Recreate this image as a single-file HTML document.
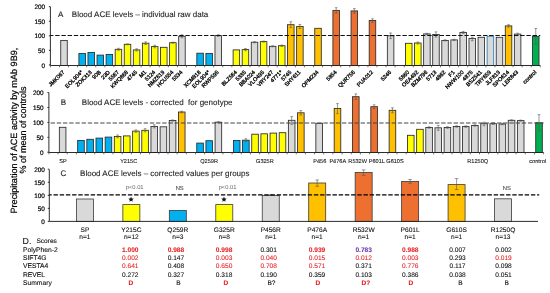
<!DOCTYPE html><html><head><meta charset="utf-8"><style>html,body{margin:0;padding:0;background:#fff;}svg{display:block;will-change:transform}</style></head><body>
<svg width="550" height="293" viewBox="0 0 550 293" font-family="Liberation Sans, sans-serif" text-rendering="geometricPrecision">
<rect width="550" height="293" fill="#fff"/>
<rect x="60.74" y="40.40" width="6.53" height="25.10" fill="#d9d9d9" stroke="#2a2a2a" stroke-width="0.85"/>
<rect x="78.89" y="53.40" width="6.53" height="12.10" fill="#00b0f0" stroke="#2a2a2a" stroke-width="0.85"/>
<rect x="87.96" y="52.40" width="6.53" height="13.10" fill="#00b0f0" stroke="#2a2a2a" stroke-width="0.85"/>
<rect x="97.03" y="55.10" width="6.53" height="10.40" fill="#00b0f0" stroke="#2a2a2a" stroke-width="0.85"/>
<rect x="106.10" y="54.40" width="6.53" height="11.10" fill="#00b0f0" stroke="#2a2a2a" stroke-width="0.85"/>
<rect x="115.18" y="49.30" width="6.53" height="16.20" fill="#ffff00" stroke="#2a2a2a" stroke-width="0.85"/>
<line x1="118.44" y1="48.30" x2="118.44" y2="50.30" stroke="#555" stroke-width="0.6"/>
<line x1="117.14" y1="48.30" x2="119.74" y2="48.30" stroke="#555" stroke-width="0.6"/>
<line x1="117.14" y1="50.30" x2="119.74" y2="50.30" stroke="#555" stroke-width="0.6"/>
<rect x="124.25" y="44.30" width="6.53" height="21.20" fill="#ffff00" stroke="#2a2a2a" stroke-width="0.85"/>
<line x1="127.51" y1="43.90" x2="127.51" y2="44.70" stroke="#555" stroke-width="0.6"/>
<line x1="126.21" y1="43.90" x2="128.81" y2="43.90" stroke="#555" stroke-width="0.6"/>
<line x1="126.21" y1="44.70" x2="128.81" y2="44.70" stroke="#555" stroke-width="0.6"/>
<rect x="133.32" y="49.90" width="6.53" height="15.60" fill="#ffff00" stroke="#2a2a2a" stroke-width="0.85"/>
<line x1="136.59" y1="48.80" x2="136.59" y2="51.00" stroke="#555" stroke-width="0.6"/>
<line x1="135.29" y1="48.80" x2="137.89" y2="48.80" stroke="#555" stroke-width="0.6"/>
<line x1="135.29" y1="51.00" x2="137.89" y2="51.00" stroke="#555" stroke-width="0.6"/>
<rect x="142.39" y="43.20" width="6.53" height="22.30" fill="#ffff00" stroke="#2a2a2a" stroke-width="0.85"/>
<line x1="145.66" y1="41.90" x2="145.66" y2="44.50" stroke="#555" stroke-width="0.6"/>
<line x1="144.36" y1="41.90" x2="146.96" y2="41.90" stroke="#555" stroke-width="0.6"/>
<line x1="144.36" y1="44.50" x2="146.96" y2="44.50" stroke="#555" stroke-width="0.6"/>
<rect x="151.46" y="46.60" width="6.53" height="18.90" fill="#ffff00" stroke="#2a2a2a" stroke-width="0.85"/>
<line x1="154.73" y1="45.30" x2="154.73" y2="47.90" stroke="#555" stroke-width="0.6"/>
<line x1="153.43" y1="45.30" x2="156.03" y2="45.30" stroke="#555" stroke-width="0.6"/>
<line x1="153.43" y1="47.90" x2="156.03" y2="47.90" stroke="#555" stroke-width="0.6"/>
<rect x="160.54" y="47.30" width="6.53" height="18.20" fill="#ffff00" stroke="#2a2a2a" stroke-width="0.85"/>
<rect x="169.61" y="42.70" width="6.53" height="22.80" fill="#ffff00" stroke="#2a2a2a" stroke-width="0.85"/>
<line x1="172.87" y1="42.20" x2="172.87" y2="43.20" stroke="#555" stroke-width="0.6"/>
<line x1="171.57" y1="42.20" x2="174.17" y2="42.20" stroke="#555" stroke-width="0.6"/>
<line x1="171.57" y1="43.20" x2="174.17" y2="43.20" stroke="#555" stroke-width="0.6"/>
<rect x="178.68" y="36.30" width="6.53" height="29.20" fill="#d9d9d9" stroke="#2a2a2a" stroke-width="0.85"/>
<line x1="181.95" y1="34.80" x2="181.95" y2="37.80" stroke="#555" stroke-width="0.6"/>
<line x1="180.65" y1="34.80" x2="183.25" y2="34.80" stroke="#555" stroke-width="0.6"/>
<line x1="180.65" y1="37.80" x2="183.25" y2="37.80" stroke="#555" stroke-width="0.6"/>
<rect x="196.83" y="53.20" width="6.53" height="12.30" fill="#00b0f0" stroke="#2a2a2a" stroke-width="0.85"/>
<rect x="205.90" y="53.40" width="6.53" height="12.10" fill="#00b0f0" stroke="#2a2a2a" stroke-width="0.85"/>
<rect x="214.97" y="35.60" width="6.53" height="29.90" fill="#d9d9d9" stroke="#2a2a2a" stroke-width="0.85"/>
<line x1="218.24" y1="34.80" x2="218.24" y2="36.40" stroke="#555" stroke-width="0.6"/>
<line x1="216.94" y1="34.80" x2="219.54" y2="34.80" stroke="#555" stroke-width="0.6"/>
<line x1="216.94" y1="36.40" x2="219.54" y2="36.40" stroke="#555" stroke-width="0.6"/>
<rect x="233.11" y="49.90" width="6.53" height="15.60" fill="#ffff00" stroke="#2a2a2a" stroke-width="0.85"/>
<rect x="242.19" y="49.60" width="6.53" height="15.90" fill="#ffff00" stroke="#2a2a2a" stroke-width="0.85"/>
<line x1="245.45" y1="48.50" x2="245.45" y2="50.70" stroke="#555" stroke-width="0.6"/>
<line x1="244.15" y1="48.50" x2="246.75" y2="48.50" stroke="#555" stroke-width="0.6"/>
<line x1="244.15" y1="50.70" x2="246.75" y2="50.70" stroke="#555" stroke-width="0.6"/>
<rect x="251.26" y="42.20" width="6.53" height="23.30" fill="#d9d9d9" stroke="#2a2a2a" stroke-width="0.85"/>
<line x1="254.52" y1="41.60" x2="254.52" y2="42.80" stroke="#555" stroke-width="0.6"/>
<line x1="253.22" y1="41.60" x2="255.82" y2="41.60" stroke="#555" stroke-width="0.6"/>
<line x1="253.22" y1="42.80" x2="255.82" y2="42.80" stroke="#555" stroke-width="0.6"/>
<rect x="260.33" y="41.60" width="6.53" height="23.90" fill="#ffff00" stroke="#2a2a2a" stroke-width="0.85"/>
<line x1="263.60" y1="41.10" x2="263.60" y2="42.10" stroke="#555" stroke-width="0.6"/>
<line x1="262.30" y1="41.10" x2="264.90" y2="41.10" stroke="#555" stroke-width="0.6"/>
<line x1="262.30" y1="42.10" x2="264.90" y2="42.10" stroke="#555" stroke-width="0.6"/>
<rect x="269.40" y="46.30" width="6.53" height="19.20" fill="#d9d9d9" stroke="#2a2a2a" stroke-width="0.85"/>
<line x1="272.67" y1="45.80" x2="272.67" y2="46.80" stroke="#555" stroke-width="0.6"/>
<line x1="271.37" y1="45.80" x2="273.97" y2="45.80" stroke="#555" stroke-width="0.6"/>
<line x1="271.37" y1="46.80" x2="273.97" y2="46.80" stroke="#555" stroke-width="0.6"/>
<rect x="278.48" y="45.70" width="6.53" height="19.80" fill="#ffff00" stroke="#2a2a2a" stroke-width="0.85"/>
<line x1="281.74" y1="45.10" x2="281.74" y2="46.30" stroke="#555" stroke-width="0.6"/>
<line x1="280.44" y1="45.10" x2="283.04" y2="45.10" stroke="#555" stroke-width="0.6"/>
<line x1="280.44" y1="46.30" x2="283.04" y2="46.30" stroke="#555" stroke-width="0.6"/>
<rect x="287.55" y="24.70" width="6.53" height="40.80" fill="#ffc000" stroke="#2a2a2a" stroke-width="0.85"/>
<line x1="290.81" y1="21.80" x2="290.81" y2="27.60" stroke="#555" stroke-width="0.6"/>
<line x1="289.51" y1="21.80" x2="292.11" y2="21.80" stroke="#555" stroke-width="0.6"/>
<line x1="289.51" y1="27.60" x2="292.11" y2="27.60" stroke="#555" stroke-width="0.6"/>
<rect x="296.62" y="26.50" width="6.53" height="39.00" fill="#ffc000" stroke="#2a2a2a" stroke-width="0.85"/>
<line x1="299.89" y1="24.50" x2="299.89" y2="28.50" stroke="#555" stroke-width="0.6"/>
<line x1="298.59" y1="24.50" x2="301.19" y2="24.50" stroke="#555" stroke-width="0.6"/>
<line x1="298.59" y1="28.50" x2="301.19" y2="28.50" stroke="#555" stroke-width="0.6"/>
<rect x="314.76" y="28.30" width="6.53" height="37.20" fill="#ffc000" stroke="#2a2a2a" stroke-width="0.85"/>
<rect x="332.91" y="10.40" width="6.53" height="55.10" fill="#ed7031" stroke="#2a2a2a" stroke-width="0.85"/>
<line x1="336.17" y1="7.70" x2="336.17" y2="13.10" stroke="#555" stroke-width="0.6"/>
<line x1="334.87" y1="7.70" x2="337.47" y2="7.70" stroke="#555" stroke-width="0.6"/>
<line x1="334.87" y1="13.10" x2="337.47" y2="13.10" stroke="#555" stroke-width="0.6"/>
<rect x="351.05" y="10.90" width="6.53" height="54.60" fill="#ed7031" stroke="#2a2a2a" stroke-width="0.85"/>
<line x1="354.32" y1="8.60" x2="354.32" y2="13.20" stroke="#555" stroke-width="0.6"/>
<line x1="353.02" y1="8.60" x2="355.62" y2="8.60" stroke="#555" stroke-width="0.6"/>
<line x1="353.02" y1="13.20" x2="355.62" y2="13.20" stroke="#555" stroke-width="0.6"/>
<rect x="369.20" y="20.50" width="6.53" height="45.00" fill="#ed7031" stroke="#2a2a2a" stroke-width="0.85"/>
<line x1="372.46" y1="18.80" x2="372.46" y2="22.20" stroke="#555" stroke-width="0.6"/>
<line x1="371.16" y1="18.80" x2="373.76" y2="18.80" stroke="#555" stroke-width="0.6"/>
<line x1="371.16" y1="22.20" x2="373.76" y2="22.20" stroke="#555" stroke-width="0.6"/>
<rect x="387.34" y="35.80" width="6.53" height="29.70" fill="#d9d9d9" stroke="#2a2a2a" stroke-width="0.85"/>
<line x1="390.61" y1="33.00" x2="390.61" y2="38.60" stroke="#555" stroke-width="0.6"/>
<line x1="389.31" y1="33.00" x2="391.91" y2="33.00" stroke="#555" stroke-width="0.6"/>
<line x1="389.31" y1="38.60" x2="391.91" y2="38.60" stroke="#555" stroke-width="0.6"/>
<rect x="405.49" y="43.30" width="6.53" height="22.20" fill="#ffff00" stroke="#2a2a2a" stroke-width="0.85"/>
<rect x="414.56" y="43.00" width="6.53" height="22.50" fill="#ffff00" stroke="#2a2a2a" stroke-width="0.85"/>
<line x1="417.82" y1="42.00" x2="417.82" y2="44.00" stroke="#555" stroke-width="0.6"/>
<line x1="416.52" y1="42.00" x2="419.12" y2="42.00" stroke="#555" stroke-width="0.6"/>
<line x1="416.52" y1="44.00" x2="419.12" y2="44.00" stroke="#555" stroke-width="0.6"/>
<rect x="423.63" y="33.90" width="6.53" height="31.60" fill="#d9d9d9" stroke="#2a2a2a" stroke-width="0.85"/>
<line x1="426.90" y1="33.30" x2="426.90" y2="34.50" stroke="#555" stroke-width="0.6"/>
<line x1="425.60" y1="33.30" x2="428.20" y2="33.30" stroke="#555" stroke-width="0.6"/>
<line x1="425.60" y1="34.50" x2="428.20" y2="34.50" stroke="#555" stroke-width="0.6"/>
<rect x="432.70" y="34.50" width="6.53" height="31.00" fill="#d9d9d9" stroke="#2a2a2a" stroke-width="0.85"/>
<line x1="435.97" y1="31.90" x2="435.97" y2="37.10" stroke="#555" stroke-width="0.6"/>
<line x1="434.67" y1="31.90" x2="437.27" y2="31.90" stroke="#555" stroke-width="0.6"/>
<line x1="434.67" y1="37.10" x2="437.27" y2="37.10" stroke="#555" stroke-width="0.6"/>
<rect x="441.78" y="40.40" width="6.53" height="25.10" fill="#d9d9d9" stroke="#2a2a2a" stroke-width="0.85"/>
<line x1="445.04" y1="39.80" x2="445.04" y2="41.00" stroke="#555" stroke-width="0.6"/>
<line x1="443.74" y1="39.80" x2="446.34" y2="39.80" stroke="#555" stroke-width="0.6"/>
<line x1="443.74" y1="41.00" x2="446.34" y2="41.00" stroke="#555" stroke-width="0.6"/>
<rect x="450.85" y="39.90" width="6.53" height="25.60" fill="#d9d9d9" stroke="#2a2a2a" stroke-width="0.85"/>
<line x1="454.11" y1="39.30" x2="454.11" y2="40.50" stroke="#555" stroke-width="0.6"/>
<line x1="452.81" y1="39.30" x2="455.41" y2="39.30" stroke="#555" stroke-width="0.6"/>
<line x1="452.81" y1="40.50" x2="455.41" y2="40.50" stroke="#555" stroke-width="0.6"/>
<rect x="459.92" y="32.40" width="6.53" height="33.10" fill="#d9d9d9" stroke="#2a2a2a" stroke-width="0.85"/>
<line x1="463.19" y1="31.40" x2="463.19" y2="33.40" stroke="#555" stroke-width="0.6"/>
<line x1="461.89" y1="31.40" x2="464.49" y2="31.40" stroke="#555" stroke-width="0.6"/>
<line x1="461.89" y1="33.40" x2="464.49" y2="33.40" stroke="#555" stroke-width="0.6"/>
<rect x="468.99" y="38.40" width="6.53" height="27.10" fill="#d9d9d9" stroke="#2a2a2a" stroke-width="0.85"/>
<line x1="472.26" y1="37.30" x2="472.26" y2="40.70" stroke="#555" stroke-width="0.6"/>
<line x1="470.96" y1="37.30" x2="473.56" y2="37.30" stroke="#555" stroke-width="0.6"/>
<line x1="470.96" y1="40.70" x2="473.56" y2="40.70" stroke="#555" stroke-width="0.6"/>
<rect x="478.06" y="37.30" width="6.53" height="28.20" fill="#d9d9d9" stroke="#2a2a2a" stroke-width="0.85"/>
<rect x="487.14" y="36.30" width="6.53" height="29.20" fill="#d9d9d9" stroke="#3f88b5" stroke-width="1.0"/>
<rect x="496.21" y="37.30" width="6.53" height="28.20" fill="#d9d9d9" stroke="#2a2a2a" stroke-width="0.85"/>
<rect x="505.28" y="25.90" width="6.53" height="39.60" fill="#ffc000" stroke="#2a2a2a" stroke-width="0.85"/>
<line x1="508.55" y1="24.70" x2="508.55" y2="27.10" stroke="#555" stroke-width="0.6"/>
<line x1="507.25" y1="24.70" x2="509.85" y2="24.70" stroke="#555" stroke-width="0.6"/>
<line x1="507.25" y1="27.10" x2="509.85" y2="27.10" stroke="#555" stroke-width="0.6"/>
<rect x="514.35" y="34.10" width="6.53" height="31.40" fill="#d9d9d9" stroke="#2a2a2a" stroke-width="0.85"/>
<line x1="517.62" y1="33.20" x2="517.62" y2="35.00" stroke="#555" stroke-width="0.6"/>
<line x1="516.32" y1="33.20" x2="518.92" y2="33.20" stroke="#555" stroke-width="0.6"/>
<line x1="516.32" y1="35.00" x2="518.92" y2="35.00" stroke="#555" stroke-width="0.6"/>
<rect x="532.50" y="36.40" width="6.53" height="29.10" fill="#00b050" stroke="#2a2a2a" stroke-width="0.85"/>
<line x1="535.76" y1="28.50" x2="535.76" y2="44.30" stroke="#555" stroke-width="0.6"/>
<line x1="534.46" y1="28.50" x2="537.06" y2="28.50" stroke="#555" stroke-width="0.6"/>
<line x1="534.46" y1="44.30" x2="537.06" y2="44.30" stroke="#555" stroke-width="0.6"/>
<line x1="50.40" y1="35.50" x2="540.30" y2="35.50" stroke="#111" stroke-width="1.0" stroke-dasharray="4.4,1.8" stroke-dashoffset="1.4"/>
<line x1="50.40" y1="6.70" x2="50.40" y2="65.50" stroke="#222" stroke-width="0.95"/>
<line x1="50.40" y1="65.50" x2="540.30" y2="65.50" stroke="#222" stroke-width="0.95"/>
<line x1="48.90" y1="64.90" x2="50.40" y2="64.90" stroke="#222" stroke-width="0.95"/>
<text x="45.10" y="67.50" font-size="6.4" text-anchor="end" fill="#000" stroke="#000" stroke-width="0.2">0</text>
<line x1="48.90" y1="50.35" x2="50.40" y2="50.35" stroke="#222" stroke-width="0.95"/>
<text x="45.10" y="52.95" font-size="6.4" text-anchor="end" fill="#000" stroke="#000" stroke-width="0.2">50</text>
<line x1="48.90" y1="35.80" x2="50.40" y2="35.80" stroke="#222" stroke-width="0.95"/>
<text x="45.10" y="38.40" font-size="6.4" text-anchor="end" fill="#000" stroke="#000" stroke-width="0.2">100</text>
<line x1="48.90" y1="21.25" x2="50.40" y2="21.25" stroke="#222" stroke-width="0.95"/>
<text x="45.10" y="23.85" font-size="6.4" text-anchor="end" fill="#000" stroke="#000" stroke-width="0.2">150</text>
<line x1="48.90" y1="6.70" x2="50.40" y2="6.70" stroke="#222" stroke-width="0.95"/>
<text x="45.10" y="9.30" font-size="6.4" text-anchor="end" fill="#000" stroke="#000" stroke-width="0.2">200</text>
<line x1="50.40" y1="65.50" x2="50.40" y2="67.30" stroke="#333" stroke-width="0.7"/>
<line x1="59.47" y1="65.50" x2="59.47" y2="67.30" stroke="#333" stroke-width="0.7"/>
<line x1="68.54" y1="65.50" x2="68.54" y2="67.30" stroke="#333" stroke-width="0.7"/>
<line x1="77.62" y1="65.50" x2="77.62" y2="67.30" stroke="#333" stroke-width="0.7"/>
<line x1="86.69" y1="65.50" x2="86.69" y2="67.30" stroke="#333" stroke-width="0.7"/>
<line x1="95.76" y1="65.50" x2="95.76" y2="67.30" stroke="#333" stroke-width="0.7"/>
<line x1="104.83" y1="65.50" x2="104.83" y2="67.30" stroke="#333" stroke-width="0.7"/>
<line x1="113.91" y1="65.50" x2="113.91" y2="67.30" stroke="#333" stroke-width="0.7"/>
<line x1="122.98" y1="65.50" x2="122.98" y2="67.30" stroke="#333" stroke-width="0.7"/>
<line x1="132.05" y1="65.50" x2="132.05" y2="67.30" stroke="#333" stroke-width="0.7"/>
<line x1="141.12" y1="65.50" x2="141.12" y2="67.30" stroke="#333" stroke-width="0.7"/>
<line x1="150.19" y1="65.50" x2="150.19" y2="67.30" stroke="#333" stroke-width="0.7"/>
<line x1="159.27" y1="65.50" x2="159.27" y2="67.30" stroke="#333" stroke-width="0.7"/>
<line x1="168.34" y1="65.50" x2="168.34" y2="67.30" stroke="#333" stroke-width="0.7"/>
<line x1="177.41" y1="65.50" x2="177.41" y2="67.30" stroke="#333" stroke-width="0.7"/>
<line x1="186.48" y1="65.50" x2="186.48" y2="67.30" stroke="#333" stroke-width="0.7"/>
<line x1="195.56" y1="65.50" x2="195.56" y2="67.30" stroke="#333" stroke-width="0.7"/>
<line x1="204.63" y1="65.50" x2="204.63" y2="67.30" stroke="#333" stroke-width="0.7"/>
<line x1="213.70" y1="65.50" x2="213.70" y2="67.30" stroke="#333" stroke-width="0.7"/>
<line x1="222.77" y1="65.50" x2="222.77" y2="67.30" stroke="#333" stroke-width="0.7"/>
<line x1="231.84" y1="65.50" x2="231.84" y2="67.30" stroke="#333" stroke-width="0.7"/>
<line x1="240.92" y1="65.50" x2="240.92" y2="67.30" stroke="#333" stroke-width="0.7"/>
<line x1="249.99" y1="65.50" x2="249.99" y2="67.30" stroke="#333" stroke-width="0.7"/>
<line x1="259.06" y1="65.50" x2="259.06" y2="67.30" stroke="#333" stroke-width="0.7"/>
<line x1="268.13" y1="65.50" x2="268.13" y2="67.30" stroke="#333" stroke-width="0.7"/>
<line x1="277.21" y1="65.50" x2="277.21" y2="67.30" stroke="#333" stroke-width="0.7"/>
<line x1="286.28" y1="65.50" x2="286.28" y2="67.30" stroke="#333" stroke-width="0.7"/>
<line x1="295.35" y1="65.50" x2="295.35" y2="67.30" stroke="#333" stroke-width="0.7"/>
<line x1="304.42" y1="65.50" x2="304.42" y2="67.30" stroke="#333" stroke-width="0.7"/>
<line x1="313.49" y1="65.50" x2="313.49" y2="67.30" stroke="#333" stroke-width="0.7"/>
<line x1="322.57" y1="65.50" x2="322.57" y2="67.30" stroke="#333" stroke-width="0.7"/>
<line x1="331.64" y1="65.50" x2="331.64" y2="67.30" stroke="#333" stroke-width="0.7"/>
<line x1="340.71" y1="65.50" x2="340.71" y2="67.30" stroke="#333" stroke-width="0.7"/>
<line x1="349.78" y1="65.50" x2="349.78" y2="67.30" stroke="#333" stroke-width="0.7"/>
<line x1="358.86" y1="65.50" x2="358.86" y2="67.30" stroke="#333" stroke-width="0.7"/>
<line x1="367.93" y1="65.50" x2="367.93" y2="67.30" stroke="#333" stroke-width="0.7"/>
<line x1="377.00" y1="65.50" x2="377.00" y2="67.30" stroke="#333" stroke-width="0.7"/>
<line x1="386.07" y1="65.50" x2="386.07" y2="67.30" stroke="#333" stroke-width="0.7"/>
<line x1="395.14" y1="65.50" x2="395.14" y2="67.30" stroke="#333" stroke-width="0.7"/>
<line x1="404.22" y1="65.50" x2="404.22" y2="67.30" stroke="#333" stroke-width="0.7"/>
<line x1="413.29" y1="65.50" x2="413.29" y2="67.30" stroke="#333" stroke-width="0.7"/>
<line x1="422.36" y1="65.50" x2="422.36" y2="67.30" stroke="#333" stroke-width="0.7"/>
<line x1="431.43" y1="65.50" x2="431.43" y2="67.30" stroke="#333" stroke-width="0.7"/>
<line x1="440.51" y1="65.50" x2="440.51" y2="67.30" stroke="#333" stroke-width="0.7"/>
<line x1="449.58" y1="65.50" x2="449.58" y2="67.30" stroke="#333" stroke-width="0.7"/>
<line x1="458.65" y1="65.50" x2="458.65" y2="67.30" stroke="#333" stroke-width="0.7"/>
<line x1="467.72" y1="65.50" x2="467.72" y2="67.30" stroke="#333" stroke-width="0.7"/>
<line x1="476.79" y1="65.50" x2="476.79" y2="67.30" stroke="#333" stroke-width="0.7"/>
<line x1="485.87" y1="65.50" x2="485.87" y2="67.30" stroke="#333" stroke-width="0.7"/>
<line x1="494.94" y1="65.50" x2="494.94" y2="67.30" stroke="#333" stroke-width="0.7"/>
<line x1="504.01" y1="65.50" x2="504.01" y2="67.30" stroke="#333" stroke-width="0.7"/>
<line x1="513.08" y1="65.50" x2="513.08" y2="67.30" stroke="#333" stroke-width="0.7"/>
<line x1="522.16" y1="65.50" x2="522.16" y2="67.30" stroke="#333" stroke-width="0.7"/>
<line x1="531.23" y1="65.50" x2="531.23" y2="67.30" stroke="#333" stroke-width="0.7"/>
<line x1="540.30" y1="65.50" x2="540.30" y2="67.30" stroke="#333" stroke-width="0.7"/>
<text transform="translate(65.01,72.60) rotate(-45)" font-size="5.5" text-anchor="end" fill="#000" stroke="#000" stroke-width="0.3">JMK067</text>
<text transform="translate(83.15,72.60) rotate(-45)" font-size="5.5" text-anchor="end" fill="#000" stroke="#000" stroke-width="0.3">EOL904*</text>
<text transform="translate(92.22,72.60) rotate(-45)" font-size="5.5" text-anchor="end" fill="#000" stroke="#000" stroke-width="0.3">ZOK313</text>
<text transform="translate(101.30,72.60) rotate(-45)" font-size="5.5" text-anchor="end" fill="#000" stroke="#000" stroke-width="0.3">90B</text>
<text transform="translate(110.37,72.60) rotate(-45)" font-size="5.5" text-anchor="end" fill="#000" stroke="#000" stroke-width="0.3">23D</text>
<text transform="translate(119.44,72.60) rotate(-45)" font-size="5.5" text-anchor="end" fill="#000" stroke="#000" stroke-width="0.3">5567</text>
<text transform="translate(128.51,72.60) rotate(-45)" font-size="5.5" text-anchor="end" fill="#000" stroke="#000" stroke-width="0.3">KWQ868</text>
<text transform="translate(137.59,72.60) rotate(-45)" font-size="5.5" text-anchor="end" fill="#000" stroke="#000" stroke-width="0.3">4745</text>
<text transform="translate(146.66,72.60) rotate(-45)" font-size="5.5" text-anchor="end" fill="#000" stroke="#000" stroke-width="0.3">M1</text>
<text transform="translate(155.73,72.60) rotate(-45)" font-size="5.5" text-anchor="end" fill="#000" stroke="#000" stroke-width="0.3">5124</text>
<text transform="translate(164.80,72.60) rotate(-45)" font-size="5.5" text-anchor="end" fill="#000" stroke="#000" stroke-width="0.3">NMZ619</text>
<text transform="translate(173.87,72.60) rotate(-45)" font-size="5.5" text-anchor="end" fill="#000" stroke="#000" stroke-width="0.3">HCU554</text>
<text transform="translate(182.95,72.60) rotate(-45)" font-size="5.5" text-anchor="end" fill="#000" stroke="#000" stroke-width="0.3">5534</text>
<text transform="translate(201.09,72.60) rotate(-45)" font-size="5.5" text-anchor="end" fill="#000" stroke="#000" stroke-width="0.3">XCM818</text>
<text transform="translate(210.16,72.60) rotate(-45)" font-size="5.5" text-anchor="end" fill="#000" stroke="#000" stroke-width="0.3">EOL904*</text>
<text transform="translate(219.24,72.60) rotate(-45)" font-size="5.5" text-anchor="end" fill="#000" stroke="#000" stroke-width="0.3">RWP595</text>
<text transform="translate(237.38,72.60) rotate(-45)" font-size="5.5" text-anchor="end" fill="#000" stroke="#000" stroke-width="0.3">BLZ564</text>
<text transform="translate(246.45,72.60) rotate(-45)" font-size="5.5" text-anchor="end" fill="#000" stroke="#000" stroke-width="0.3">5335</text>
<text transform="translate(255.52,72.60) rotate(-45)" font-size="5.5" text-anchor="end" fill="#000" stroke="#000" stroke-width="0.3">BBA024</text>
<text transform="translate(264.60,72.60) rotate(-45)" font-size="5.5" text-anchor="end" fill="#000" stroke="#000" stroke-width="0.3">VLO495</text>
<text transform="translate(273.67,72.60) rotate(-45)" font-size="5.5" text-anchor="end" fill="#000" stroke="#000" stroke-width="0.3">VRY247</text>
<text transform="translate(282.74,72.60) rotate(-45)" font-size="5.5" text-anchor="end" fill="#000" stroke="#000" stroke-width="0.3">4771*</text>
<text transform="translate(291.81,72.60) rotate(-45)" font-size="5.5" text-anchor="end" fill="#000" stroke="#000" stroke-width="0.3">5745</text>
<text transform="translate(300.89,72.60) rotate(-45)" font-size="5.5" text-anchor="end" fill="#000" stroke="#000" stroke-width="0.3">SHY611</text>
<text transform="translate(319.03,72.60) rotate(-45)" font-size="5.5" text-anchor="end" fill="#000" stroke="#000" stroke-width="0.3">OPM234</text>
<text transform="translate(337.17,72.60) rotate(-45)" font-size="5.5" text-anchor="end" fill="#000" stroke="#000" stroke-width="0.3">5854</text>
<text transform="translate(355.32,72.60) rotate(-45)" font-size="5.5" text-anchor="end" fill="#000" stroke="#000" stroke-width="0.3">QUR756</text>
<text transform="translate(373.46,72.60) rotate(-45)" font-size="5.5" text-anchor="end" fill="#000" stroke="#000" stroke-width="0.3">PUA012</text>
<text transform="translate(391.61,72.60) rotate(-45)" font-size="5.5" text-anchor="end" fill="#000" stroke="#000" stroke-width="0.3">5246</text>
<text transform="translate(409.75,72.60) rotate(-45)" font-size="5.5" text-anchor="end" fill="#000" stroke="#000" stroke-width="0.3">5860</text>
<text transform="translate(418.82,72.60) rotate(-45)" font-size="5.5" text-anchor="end" fill="#000" stroke="#000" stroke-width="0.3">OEA492</text>
<text transform="translate(427.90,72.60) rotate(-45)" font-size="5.5" text-anchor="end" fill="#000" stroke="#000" stroke-width="0.3">BZM796</text>
<text transform="translate(436.97,72.60) rotate(-45)" font-size="5.5" text-anchor="end" fill="#000" stroke="#000" stroke-width="0.3">5713</text>
<text transform="translate(446.04,72.60) rotate(-45)" font-size="5.5" text-anchor="end" fill="#000" stroke="#000" stroke-width="0.3">4862</text>
<text transform="translate(455.11,72.60) rotate(-45)" font-size="5.5" text-anchor="end" fill="#000" stroke="#000" stroke-width="0.3">F1</text>
<text transform="translate(464.19,72.60) rotate(-45)" font-size="5.5" text-anchor="end" fill="#000" stroke="#000" stroke-width="0.3">NWW100</text>
<text transform="translate(473.26,72.60) rotate(-45)" font-size="5.5" text-anchor="end" fill="#000" stroke="#000" stroke-width="0.3">4875</text>
<text transform="translate(482.33,72.60) rotate(-45)" font-size="5.5" text-anchor="end" fill="#000" stroke="#000" stroke-width="0.3">BSZ541</text>
<text transform="translate(491.40,72.60) rotate(-45)" font-size="5.5" text-anchor="end" fill="#000" stroke="#000" stroke-width="0.3">TRY659</text>
<text transform="translate(500.47,72.60) rotate(-45)" font-size="5.5" text-anchor="end" fill="#000" stroke="#000" stroke-width="0.3">JLF813</text>
<text transform="translate(509.55,72.60) rotate(-45)" font-size="5.5" text-anchor="end" fill="#000" stroke="#000" stroke-width="0.3">SPO614</text>
<text transform="translate(518.62,72.60) rotate(-45)" font-size="5.5" text-anchor="end" fill="#000" stroke="#000" stroke-width="0.3">LER843</text>
<text transform="translate(536.76,72.60) rotate(-45)" font-size="5.5" text-anchor="end" fill="#000" stroke="#000" stroke-width="0.3">control</text>
<text x="58" y="16.7" font-size="8" fill="#222" stroke="#222" stroke-width="0.1">A</text>
<text x="71.8" y="16.7" font-size="8" fill="#222" stroke="#222" stroke-width="0.1">Blood ACE levels – individual raw data</text>
<rect x="59.34" y="127.30" width="6.60" height="25.20" fill="#d9d9d9" stroke="#2a2a2a" stroke-width="0.85"/>
<rect x="77.67" y="140.50" width="6.60" height="12.00" fill="#00b0f0" stroke="#2a2a2a" stroke-width="0.85"/>
<rect x="86.83" y="139.30" width="6.60" height="13.20" fill="#00b0f0" stroke="#2a2a2a" stroke-width="0.85"/>
<rect x="95.99" y="138.10" width="6.60" height="14.40" fill="#00b0f0" stroke="#2a2a2a" stroke-width="0.85"/>
<rect x="105.15" y="137.10" width="6.60" height="15.40" fill="#00b0f0" stroke="#2a2a2a" stroke-width="0.85"/>
<rect x="114.31" y="136.40" width="6.60" height="16.10" fill="#ffff00" stroke="#2a2a2a" stroke-width="0.85"/>
<line x1="117.61" y1="135.00" x2="117.61" y2="137.80" stroke="#555" stroke-width="0.6"/>
<line x1="116.31" y1="135.00" x2="118.91" y2="135.00" stroke="#555" stroke-width="0.6"/>
<line x1="116.31" y1="137.80" x2="118.91" y2="137.80" stroke="#555" stroke-width="0.6"/>
<rect x="123.47" y="135.90" width="6.60" height="16.60" fill="#ffff00" stroke="#2a2a2a" stroke-width="0.85"/>
<rect x="132.63" y="131.10" width="6.60" height="21.40" fill="#ffff00" stroke="#2a2a2a" stroke-width="0.85"/>
<line x1="135.93" y1="129.90" x2="135.93" y2="132.30" stroke="#555" stroke-width="0.6"/>
<line x1="134.63" y1="129.90" x2="137.23" y2="129.90" stroke="#555" stroke-width="0.6"/>
<line x1="134.63" y1="132.30" x2="137.23" y2="132.30" stroke="#555" stroke-width="0.6"/>
<rect x="141.79" y="130.30" width="6.60" height="22.20" fill="#ffff00" stroke="#2a2a2a" stroke-width="0.85"/>
<line x1="145.09" y1="128.70" x2="145.09" y2="131.90" stroke="#555" stroke-width="0.6"/>
<line x1="143.79" y1="128.70" x2="146.39" y2="128.70" stroke="#555" stroke-width="0.6"/>
<line x1="143.79" y1="131.90" x2="146.39" y2="131.90" stroke="#555" stroke-width="0.6"/>
<rect x="150.95" y="126.50" width="6.60" height="26.00" fill="#d9d9d9" stroke="#2a2a2a" stroke-width="0.85"/>
<line x1="154.25" y1="124.80" x2="154.25" y2="127.90" stroke="#555" stroke-width="0.6"/>
<line x1="152.95" y1="124.80" x2="155.55" y2="124.80" stroke="#555" stroke-width="0.6"/>
<line x1="152.95" y1="127.90" x2="155.55" y2="127.90" stroke="#555" stroke-width="0.6"/>
<rect x="160.12" y="126.80" width="6.60" height="25.70" fill="#d9d9d9" stroke="#2a2a2a" stroke-width="0.85"/>
<rect x="169.28" y="120.50" width="6.60" height="32.00" fill="#d9d9d9" stroke="#2a2a2a" stroke-width="0.85"/>
<line x1="172.58" y1="119.90" x2="172.58" y2="121.10" stroke="#555" stroke-width="0.6"/>
<line x1="171.28" y1="119.90" x2="173.88" y2="119.90" stroke="#555" stroke-width="0.6"/>
<line x1="171.28" y1="121.10" x2="173.88" y2="121.10" stroke="#555" stroke-width="0.6"/>
<rect x="178.44" y="112.00" width="6.60" height="40.50" fill="#ffc000" stroke="#2a2a2a" stroke-width="0.85"/>
<line x1="181.74" y1="111.20" x2="181.74" y2="112.80" stroke="#555" stroke-width="0.6"/>
<line x1="180.44" y1="111.20" x2="183.04" y2="111.20" stroke="#555" stroke-width="0.6"/>
<line x1="180.44" y1="112.80" x2="183.04" y2="112.80" stroke="#555" stroke-width="0.6"/>
<rect x="196.76" y="143.10" width="6.60" height="9.40" fill="#00b0f0" stroke="#2a2a2a" stroke-width="0.85"/>
<rect x="205.92" y="140.70" width="6.60" height="11.80" fill="#00b0f0" stroke="#2a2a2a" stroke-width="0.85"/>
<rect x="215.08" y="122.20" width="6.60" height="30.30" fill="#d9d9d9" stroke="#2a2a2a" stroke-width="0.85"/>
<line x1="218.38" y1="121.70" x2="218.38" y2="122.70" stroke="#555" stroke-width="0.6"/>
<line x1="217.08" y1="121.70" x2="219.68" y2="121.70" stroke="#555" stroke-width="0.6"/>
<line x1="217.08" y1="122.70" x2="219.68" y2="122.70" stroke="#555" stroke-width="0.6"/>
<rect x="233.40" y="140.50" width="6.60" height="12.00" fill="#00b0f0" stroke="#2a2a2a" stroke-width="0.85"/>
<rect x="242.57" y="140.20" width="6.60" height="12.30" fill="#00b0f0" stroke="#2a2a2a" stroke-width="0.85"/>
<line x1="245.86" y1="138.80" x2="245.86" y2="141.60" stroke="#555" stroke-width="0.6"/>
<line x1="244.56" y1="138.80" x2="247.16" y2="138.80" stroke="#555" stroke-width="0.6"/>
<line x1="244.56" y1="141.60" x2="247.16" y2="141.60" stroke="#555" stroke-width="0.6"/>
<rect x="251.73" y="134.20" width="6.60" height="18.30" fill="#ffff00" stroke="#2a2a2a" stroke-width="0.85"/>
<rect x="260.89" y="133.80" width="6.60" height="18.70" fill="#ffff00" stroke="#2a2a2a" stroke-width="0.85"/>
<rect x="270.05" y="133.10" width="6.60" height="19.40" fill="#ffff00" stroke="#2a2a2a" stroke-width="0.85"/>
<rect x="279.21" y="132.70" width="6.60" height="19.80" fill="#ffff00" stroke="#2a2a2a" stroke-width="0.85"/>
<rect x="288.37" y="120.30" width="6.60" height="32.20" fill="#d9d9d9" stroke="#2a2a2a" stroke-width="0.85"/>
<line x1="291.67" y1="116.60" x2="291.67" y2="124.30" stroke="#555" stroke-width="0.6"/>
<line x1="290.37" y1="116.60" x2="292.97" y2="116.60" stroke="#555" stroke-width="0.6"/>
<line x1="290.37" y1="124.30" x2="292.97" y2="124.30" stroke="#555" stroke-width="0.6"/>
<rect x="297.53" y="112.80" width="6.60" height="39.70" fill="#ffc000" stroke="#2a2a2a" stroke-width="0.85"/>
<line x1="300.83" y1="110.60" x2="300.83" y2="115.00" stroke="#555" stroke-width="0.6"/>
<line x1="299.53" y1="110.60" x2="302.13" y2="110.60" stroke="#555" stroke-width="0.6"/>
<line x1="299.53" y1="115.00" x2="302.13" y2="115.00" stroke="#555" stroke-width="0.6"/>
<rect x="315.85" y="123.30" width="6.60" height="29.20" fill="#d9d9d9" stroke="#2a2a2a" stroke-width="0.85"/>
<rect x="334.18" y="108.50" width="6.60" height="44.00" fill="#ffc000" stroke="#2a2a2a" stroke-width="0.85"/>
<line x1="337.47" y1="103.60" x2="337.47" y2="113.60" stroke="#555" stroke-width="0.6"/>
<line x1="336.17" y1="103.60" x2="338.77" y2="103.60" stroke="#555" stroke-width="0.6"/>
<line x1="336.17" y1="113.60" x2="338.77" y2="113.60" stroke="#555" stroke-width="0.6"/>
<rect x="352.50" y="96.70" width="6.60" height="55.80" fill="#ed7031" stroke="#2a2a2a" stroke-width="0.85"/>
<line x1="355.80" y1="93.90" x2="355.80" y2="99.50" stroke="#555" stroke-width="0.6"/>
<line x1="354.50" y1="93.90" x2="357.10" y2="93.90" stroke="#555" stroke-width="0.6"/>
<line x1="354.50" y1="99.50" x2="357.10" y2="99.50" stroke="#555" stroke-width="0.6"/>
<rect x="370.82" y="106.70" width="6.60" height="45.80" fill="#ed7031" stroke="#2a2a2a" stroke-width="0.85"/>
<line x1="374.12" y1="104.80" x2="374.12" y2="108.60" stroke="#555" stroke-width="0.6"/>
<line x1="372.82" y1="104.80" x2="375.42" y2="104.80" stroke="#555" stroke-width="0.6"/>
<line x1="372.82" y1="108.60" x2="375.42" y2="108.60" stroke="#555" stroke-width="0.6"/>
<rect x="389.14" y="110.30" width="6.60" height="42.20" fill="#ffc000" stroke="#2a2a2a" stroke-width="0.85"/>
<line x1="392.44" y1="107.80" x2="392.44" y2="112.80" stroke="#555" stroke-width="0.6"/>
<line x1="391.14" y1="107.80" x2="393.74" y2="107.80" stroke="#555" stroke-width="0.6"/>
<line x1="391.14" y1="112.80" x2="393.74" y2="112.80" stroke="#555" stroke-width="0.6"/>
<rect x="407.47" y="135.30" width="6.60" height="17.20" fill="#ffff00" stroke="#2a2a2a" stroke-width="0.85"/>
<rect x="416.63" y="129.30" width="6.60" height="23.20" fill="#ffff00" stroke="#2a2a2a" stroke-width="0.85"/>
<rect x="425.79" y="127.50" width="6.60" height="25.00" fill="#d9d9d9" stroke="#2a2a2a" stroke-width="0.85"/>
<line x1="429.09" y1="126.80" x2="429.09" y2="128.20" stroke="#555" stroke-width="0.6"/>
<line x1="427.79" y1="126.80" x2="430.39" y2="126.80" stroke="#555" stroke-width="0.6"/>
<line x1="427.79" y1="128.20" x2="430.39" y2="128.20" stroke="#555" stroke-width="0.6"/>
<rect x="434.95" y="127.80" width="6.60" height="24.70" fill="#d9d9d9" stroke="#2a2a2a" stroke-width="0.85"/>
<line x1="438.25" y1="125.40" x2="438.25" y2="130.30" stroke="#555" stroke-width="0.6"/>
<line x1="436.95" y1="125.40" x2="439.55" y2="125.40" stroke="#555" stroke-width="0.6"/>
<line x1="436.95" y1="130.30" x2="439.55" y2="130.30" stroke="#555" stroke-width="0.6"/>
<rect x="444.11" y="127.50" width="6.60" height="25.00" fill="#d9d9d9" stroke="#2a2a2a" stroke-width="0.85"/>
<line x1="447.41" y1="126.70" x2="447.41" y2="128.30" stroke="#555" stroke-width="0.6"/>
<line x1="446.11" y1="126.70" x2="448.71" y2="126.70" stroke="#555" stroke-width="0.6"/>
<line x1="446.11" y1="128.30" x2="448.71" y2="128.30" stroke="#555" stroke-width="0.6"/>
<rect x="453.27" y="126.50" width="6.60" height="26.00" fill="#d9d9d9" stroke="#2a2a2a" stroke-width="0.85"/>
<line x1="456.57" y1="125.80" x2="456.57" y2="127.20" stroke="#555" stroke-width="0.6"/>
<line x1="455.27" y1="125.80" x2="457.87" y2="125.80" stroke="#555" stroke-width="0.6"/>
<line x1="455.27" y1="127.20" x2="457.87" y2="127.20" stroke="#555" stroke-width="0.6"/>
<rect x="462.43" y="126.60" width="6.60" height="25.90" fill="#d9d9d9" stroke="#2a2a2a" stroke-width="0.85"/>
<line x1="465.73" y1="125.90" x2="465.73" y2="127.30" stroke="#555" stroke-width="0.6"/>
<line x1="464.43" y1="125.90" x2="467.03" y2="125.90" stroke="#555" stroke-width="0.6"/>
<line x1="464.43" y1="127.30" x2="467.03" y2="127.30" stroke="#555" stroke-width="0.6"/>
<rect x="471.59" y="125.50" width="6.60" height="27.00" fill="#d9d9d9" stroke="#2a2a2a" stroke-width="0.85"/>
<line x1="474.89" y1="124.80" x2="474.89" y2="126.20" stroke="#555" stroke-width="0.6"/>
<line x1="473.59" y1="124.80" x2="476.19" y2="124.80" stroke="#555" stroke-width="0.6"/>
<line x1="473.59" y1="126.20" x2="476.19" y2="126.20" stroke="#555" stroke-width="0.6"/>
<rect x="480.75" y="123.70" width="6.60" height="28.80" fill="#d9d9d9" stroke="#2a2a2a" stroke-width="0.85"/>
<line x1="484.05" y1="122.20" x2="484.05" y2="125.80" stroke="#555" stroke-width="0.6"/>
<line x1="482.75" y1="122.20" x2="485.35" y2="122.20" stroke="#555" stroke-width="0.6"/>
<line x1="482.75" y1="125.80" x2="485.35" y2="125.80" stroke="#555" stroke-width="0.6"/>
<rect x="489.92" y="123.70" width="6.60" height="28.80" fill="#d9d9d9" stroke="#2a2a2a" stroke-width="0.85"/>
<line x1="493.21" y1="123.00" x2="493.21" y2="124.40" stroke="#555" stroke-width="0.6"/>
<line x1="491.91" y1="123.00" x2="494.51" y2="123.00" stroke="#555" stroke-width="0.6"/>
<line x1="491.91" y1="124.40" x2="494.51" y2="124.40" stroke="#555" stroke-width="0.6"/>
<rect x="499.08" y="124.00" width="6.60" height="28.50" fill="#d9d9d9" stroke="#2a2a2a" stroke-width="0.85"/>
<line x1="502.38" y1="123.30" x2="502.38" y2="124.70" stroke="#555" stroke-width="0.6"/>
<line x1="501.07" y1="123.30" x2="503.68" y2="123.30" stroke="#555" stroke-width="0.6"/>
<line x1="501.07" y1="124.70" x2="503.68" y2="124.70" stroke="#555" stroke-width="0.6"/>
<rect x="508.24" y="120.30" width="6.60" height="32.20" fill="#d9d9d9" stroke="#2a2a2a" stroke-width="0.85"/>
<line x1="511.54" y1="119.80" x2="511.54" y2="120.80" stroke="#555" stroke-width="0.6"/>
<line x1="510.24" y1="119.80" x2="512.84" y2="119.80" stroke="#555" stroke-width="0.6"/>
<line x1="510.24" y1="120.80" x2="512.84" y2="120.80" stroke="#555" stroke-width="0.6"/>
<rect x="517.40" y="120.60" width="6.60" height="31.90" fill="#d9d9d9" stroke="#2a2a2a" stroke-width="0.85"/>
<line x1="520.70" y1="120.10" x2="520.70" y2="121.10" stroke="#555" stroke-width="0.6"/>
<line x1="519.40" y1="120.10" x2="522.00" y2="120.10" stroke="#555" stroke-width="0.6"/>
<line x1="519.40" y1="121.10" x2="522.00" y2="121.10" stroke="#555" stroke-width="0.6"/>
<rect x="535.72" y="122.80" width="6.60" height="29.70" fill="#00b050" stroke="#2a2a2a" stroke-width="0.85"/>
<line x1="539.02" y1="114.70" x2="539.02" y2="130.90" stroke="#555" stroke-width="0.6"/>
<line x1="537.72" y1="114.70" x2="540.32" y2="114.70" stroke="#555" stroke-width="0.6"/>
<line x1="537.72" y1="130.90" x2="540.32" y2="130.90" stroke="#555" stroke-width="0.6"/>
<line x1="48.90" y1="123.00" x2="543.60" y2="123.00" stroke="#444" stroke-width="1.0" stroke-dasharray="4.4,1.8" stroke-dashoffset="4.5"/>
<line x1="48.90" y1="92.60" x2="48.90" y2="152.50" stroke="#222" stroke-width="0.95"/>
<line x1="48.90" y1="152.50" x2="543.60" y2="152.50" stroke="#222" stroke-width="0.95"/>
<line x1="47.40" y1="152.20" x2="48.90" y2="152.20" stroke="#222" stroke-width="0.95"/>
<text x="43.60" y="154.80" font-size="6.4" text-anchor="end" fill="#000" stroke="#000" stroke-width="0.2">0</text>
<line x1="47.40" y1="137.30" x2="48.90" y2="137.30" stroke="#222" stroke-width="0.95"/>
<text x="43.60" y="139.90" font-size="6.4" text-anchor="end" fill="#000" stroke="#000" stroke-width="0.2">50</text>
<line x1="47.40" y1="122.40" x2="48.90" y2="122.40" stroke="#222" stroke-width="0.95"/>
<text x="43.60" y="125.00" font-size="6.4" text-anchor="end" fill="#000" stroke="#000" stroke-width="0.2">100</text>
<line x1="47.40" y1="107.50" x2="48.90" y2="107.50" stroke="#222" stroke-width="0.95"/>
<text x="43.60" y="110.10" font-size="6.4" text-anchor="end" fill="#000" stroke="#000" stroke-width="0.2">150</text>
<line x1="47.40" y1="92.60" x2="48.90" y2="92.60" stroke="#222" stroke-width="0.95"/>
<text x="43.60" y="95.20" font-size="6.4" text-anchor="end" fill="#000" stroke="#000" stroke-width="0.2">200</text>
<line x1="48.90" y1="152.50" x2="48.90" y2="154.30" stroke="#333" stroke-width="0.7"/>
<line x1="58.06" y1="152.50" x2="58.06" y2="154.30" stroke="#333" stroke-width="0.7"/>
<line x1="67.22" y1="152.50" x2="67.22" y2="154.30" stroke="#333" stroke-width="0.7"/>
<line x1="76.38" y1="152.50" x2="76.38" y2="154.30" stroke="#333" stroke-width="0.7"/>
<line x1="85.54" y1="152.50" x2="85.54" y2="154.30" stroke="#333" stroke-width="0.7"/>
<line x1="94.71" y1="152.50" x2="94.71" y2="154.30" stroke="#333" stroke-width="0.7"/>
<line x1="103.87" y1="152.50" x2="103.87" y2="154.30" stroke="#333" stroke-width="0.7"/>
<line x1="113.03" y1="152.50" x2="113.03" y2="154.30" stroke="#333" stroke-width="0.7"/>
<line x1="122.19" y1="152.50" x2="122.19" y2="154.30" stroke="#333" stroke-width="0.7"/>
<line x1="131.35" y1="152.50" x2="131.35" y2="154.30" stroke="#333" stroke-width="0.7"/>
<line x1="140.51" y1="152.50" x2="140.51" y2="154.30" stroke="#333" stroke-width="0.7"/>
<line x1="149.67" y1="152.50" x2="149.67" y2="154.30" stroke="#333" stroke-width="0.7"/>
<line x1="158.83" y1="152.50" x2="158.83" y2="154.30" stroke="#333" stroke-width="0.7"/>
<line x1="167.99" y1="152.50" x2="167.99" y2="154.30" stroke="#333" stroke-width="0.7"/>
<line x1="177.16" y1="152.50" x2="177.16" y2="154.30" stroke="#333" stroke-width="0.7"/>
<line x1="186.32" y1="152.50" x2="186.32" y2="154.30" stroke="#333" stroke-width="0.7"/>
<line x1="195.48" y1="152.50" x2="195.48" y2="154.30" stroke="#333" stroke-width="0.7"/>
<line x1="204.64" y1="152.50" x2="204.64" y2="154.30" stroke="#333" stroke-width="0.7"/>
<line x1="213.80" y1="152.50" x2="213.80" y2="154.30" stroke="#333" stroke-width="0.7"/>
<line x1="222.96" y1="152.50" x2="222.96" y2="154.30" stroke="#333" stroke-width="0.7"/>
<line x1="232.12" y1="152.50" x2="232.12" y2="154.30" stroke="#333" stroke-width="0.7"/>
<line x1="241.28" y1="152.50" x2="241.28" y2="154.30" stroke="#333" stroke-width="0.7"/>
<line x1="250.44" y1="152.50" x2="250.44" y2="154.30" stroke="#333" stroke-width="0.7"/>
<line x1="259.61" y1="152.50" x2="259.61" y2="154.30" stroke="#333" stroke-width="0.7"/>
<line x1="268.77" y1="152.50" x2="268.77" y2="154.30" stroke="#333" stroke-width="0.7"/>
<line x1="277.93" y1="152.50" x2="277.93" y2="154.30" stroke="#333" stroke-width="0.7"/>
<line x1="287.09" y1="152.50" x2="287.09" y2="154.30" stroke="#333" stroke-width="0.7"/>
<line x1="296.25" y1="152.50" x2="296.25" y2="154.30" stroke="#333" stroke-width="0.7"/>
<line x1="305.41" y1="152.50" x2="305.41" y2="154.30" stroke="#333" stroke-width="0.7"/>
<line x1="314.57" y1="152.50" x2="314.57" y2="154.30" stroke="#333" stroke-width="0.7"/>
<line x1="323.73" y1="152.50" x2="323.73" y2="154.30" stroke="#333" stroke-width="0.7"/>
<line x1="332.89" y1="152.50" x2="332.89" y2="154.30" stroke="#333" stroke-width="0.7"/>
<line x1="342.06" y1="152.50" x2="342.06" y2="154.30" stroke="#333" stroke-width="0.7"/>
<line x1="351.22" y1="152.50" x2="351.22" y2="154.30" stroke="#333" stroke-width="0.7"/>
<line x1="360.38" y1="152.50" x2="360.38" y2="154.30" stroke="#333" stroke-width="0.7"/>
<line x1="369.54" y1="152.50" x2="369.54" y2="154.30" stroke="#333" stroke-width="0.7"/>
<line x1="378.70" y1="152.50" x2="378.70" y2="154.30" stroke="#333" stroke-width="0.7"/>
<line x1="387.86" y1="152.50" x2="387.86" y2="154.30" stroke="#333" stroke-width="0.7"/>
<line x1="397.02" y1="152.50" x2="397.02" y2="154.30" stroke="#333" stroke-width="0.7"/>
<line x1="406.18" y1="152.50" x2="406.18" y2="154.30" stroke="#333" stroke-width="0.7"/>
<line x1="415.34" y1="152.50" x2="415.34" y2="154.30" stroke="#333" stroke-width="0.7"/>
<line x1="424.51" y1="152.50" x2="424.51" y2="154.30" stroke="#333" stroke-width="0.7"/>
<line x1="433.67" y1="152.50" x2="433.67" y2="154.30" stroke="#333" stroke-width="0.7"/>
<line x1="442.83" y1="152.50" x2="442.83" y2="154.30" stroke="#333" stroke-width="0.7"/>
<line x1="451.99" y1="152.50" x2="451.99" y2="154.30" stroke="#333" stroke-width="0.7"/>
<line x1="461.15" y1="152.50" x2="461.15" y2="154.30" stroke="#333" stroke-width="0.7"/>
<line x1="470.31" y1="152.50" x2="470.31" y2="154.30" stroke="#333" stroke-width="0.7"/>
<line x1="479.47" y1="152.50" x2="479.47" y2="154.30" stroke="#333" stroke-width="0.7"/>
<line x1="488.63" y1="152.50" x2="488.63" y2="154.30" stroke="#333" stroke-width="0.7"/>
<line x1="497.79" y1="152.50" x2="497.79" y2="154.30" stroke="#333" stroke-width="0.7"/>
<line x1="506.96" y1="152.50" x2="506.96" y2="154.30" stroke="#333" stroke-width="0.7"/>
<line x1="516.12" y1="152.50" x2="516.12" y2="154.30" stroke="#333" stroke-width="0.7"/>
<line x1="525.28" y1="152.50" x2="525.28" y2="154.30" stroke="#333" stroke-width="0.7"/>
<line x1="534.44" y1="152.50" x2="534.44" y2="154.30" stroke="#333" stroke-width="0.7"/>
<line x1="543.60" y1="152.50" x2="543.60" y2="154.30" stroke="#333" stroke-width="0.7"/>
<text x="60.7" y="104.5" font-size="8" fill="#222" stroke="#222" stroke-width="0.1">B</text>
<text x="81.8" y="104.5" font-size="8" fill="#222" xml:space="preserve" stroke="#222" stroke-width="0.1">Blood ACE levels - corrected  for genotype</text>
<text x="62.9" y="162.5" font-size="5.6" text-anchor="middle" fill="#222" stroke="#222" stroke-width="0.1">SP</text>
<text x="128.7" y="162.5" font-size="5.6" text-anchor="middle" fill="#222" stroke="#222" stroke-width="0.1">Y215C</text>
<text x="209.1" y="162.5" font-size="5.6" text-anchor="middle" fill="#222" stroke="#222" stroke-width="0.1">Q259R</text>
<text x="264.9" y="162.5" font-size="5.6" text-anchor="middle" fill="#222" stroke="#222" stroke-width="0.1">G325R</text>
<text x="319.8" y="162.5" font-size="5.6" text-anchor="middle" fill="#222" stroke="#222" stroke-width="0.1">P456</text>
<text x="337.8" y="162.5" font-size="5.6" text-anchor="middle" fill="#222" stroke="#222" stroke-width="0.1">P476A</text>
<text x="357.7" y="162.5" font-size="5.6" text-anchor="middle" fill="#222" stroke="#222" stroke-width="0.1">R532W</text>
<text x="376.8" y="162.5" font-size="5.6" text-anchor="middle" fill="#222" stroke="#222" stroke-width="0.1">P601L</text>
<text x="395" y="162.5" font-size="5.6" text-anchor="middle" fill="#222" stroke="#222" stroke-width="0.1">G610S</text>
<text x="477.7" y="162.5" font-size="5.6" text-anchor="middle" fill="#222" stroke="#222" stroke-width="0.1">R1250Q</text>
<text x="537.7" y="162.5" font-size="5.6" text-anchor="middle" fill="#222" stroke="#222" stroke-width="0.1">control</text>
<rect x="76.40" y="199.00" width="17" height="22.40" fill="#d9d9d9" stroke="#3a3a3a" stroke-width="0.8"/>
<text x="84.90" y="231.8" font-size="6.6" text-anchor="middle" fill="#111" stroke="#111" stroke-width="0.1">SP</text>
<text x="84.90" y="238.6" font-size="6.6" text-anchor="middle" fill="#111" stroke="#111" stroke-width="0.1">n=1</text>
<rect x="122.86" y="204.60" width="17" height="16.80" fill="#ffff00" stroke="#3a3a3a" stroke-width="0.8"/>
<text x="131.36" y="231.8" font-size="6.6" text-anchor="middle" fill="#111" stroke="#111" stroke-width="0.1">Y215C</text>
<text x="131.36" y="238.6" font-size="6.6" text-anchor="middle" fill="#111" stroke="#111" stroke-width="0.1">n=12</text>
<rect x="169.32" y="210.50" width="17" height="10.90" fill="#00b0f0" stroke="#3a3a3a" stroke-width="0.8"/>
<text x="177.82" y="231.8" font-size="6.6" text-anchor="middle" fill="#111" stroke="#111" stroke-width="0.1">Q259R</text>
<text x="177.82" y="238.6" font-size="6.6" text-anchor="middle" fill="#111" stroke="#111" stroke-width="0.1">n=3</text>
<rect x="215.78" y="204.60" width="17" height="16.80" fill="#ffff00" stroke="#3a3a3a" stroke-width="0.8"/>
<text x="224.28" y="231.8" font-size="6.6" text-anchor="middle" fill="#111" stroke="#111" stroke-width="0.1">G325R</text>
<text x="224.28" y="238.6" font-size="6.6" text-anchor="middle" fill="#111" stroke="#111" stroke-width="0.1">n=8</text>
<rect x="262.24" y="195.40" width="17" height="26.00" fill="#d9d9d9" stroke="#3a3a3a" stroke-width="0.8"/>
<line x1="270.74" y1="194.60" x2="270.74" y2="195.40" stroke="#555" stroke-width="0.6"/>
<line x1="268.94" y1="194.60" x2="272.54" y2="194.60" stroke="#555" stroke-width="0.6"/>
<line x1="268.94" y1="195.40" x2="272.54" y2="195.40" stroke="#555" stroke-width="0.6"/>
<text x="270.74" y="231.8" font-size="6.6" text-anchor="middle" fill="#111" stroke="#111" stroke-width="0.1">P456R</text>
<text x="270.74" y="238.6" font-size="6.6" text-anchor="middle" fill="#111" stroke="#111" stroke-width="0.1">n=1</text>
<rect x="308.70" y="183.00" width="17" height="38.40" fill="#ffc000" stroke="#3a3a3a" stroke-width="0.8"/>
<line x1="317.20" y1="180.00" x2="317.20" y2="186.30" stroke="#555" stroke-width="0.6"/>
<line x1="315.40" y1="180.00" x2="319.00" y2="180.00" stroke="#555" stroke-width="0.6"/>
<line x1="315.40" y1="186.30" x2="319.00" y2="186.30" stroke="#555" stroke-width="0.6"/>
<text x="317.20" y="231.8" font-size="6.6" text-anchor="middle" fill="#111" stroke="#111" stroke-width="0.1">P476A</text>
<text x="317.20" y="238.6" font-size="6.6" text-anchor="middle" fill="#111" stroke="#111" stroke-width="0.1">n=1</text>
<rect x="355.16" y="172.40" width="17" height="49.00" fill="#ed7031" stroke="#3a3a3a" stroke-width="0.8"/>
<line x1="363.66" y1="169.90" x2="363.66" y2="175.40" stroke="#555" stroke-width="0.6"/>
<line x1="361.86" y1="169.90" x2="365.46" y2="169.90" stroke="#555" stroke-width="0.6"/>
<line x1="361.86" y1="175.40" x2="365.46" y2="175.40" stroke="#555" stroke-width="0.6"/>
<text x="363.66" y="231.8" font-size="6.6" text-anchor="middle" fill="#111" stroke="#111" stroke-width="0.1">R532W</text>
<text x="363.66" y="238.6" font-size="6.6" text-anchor="middle" fill="#111" stroke="#111" stroke-width="0.1">n=1</text>
<rect x="401.62" y="181.40" width="17" height="40.00" fill="#ed7031" stroke="#3a3a3a" stroke-width="0.8"/>
<line x1="410.12" y1="179.50" x2="410.12" y2="183.30" stroke="#555" stroke-width="0.6"/>
<line x1="408.32" y1="179.50" x2="411.92" y2="179.50" stroke="#555" stroke-width="0.6"/>
<line x1="408.32" y1="183.30" x2="411.92" y2="183.30" stroke="#555" stroke-width="0.6"/>
<text x="410.12" y="231.8" font-size="6.6" text-anchor="middle" fill="#111" stroke="#111" stroke-width="0.1">P601L</text>
<text x="410.12" y="238.6" font-size="6.6" text-anchor="middle" fill="#111" stroke="#111" stroke-width="0.1">n=1</text>
<rect x="448.08" y="184.60" width="17" height="36.80" fill="#ffc000" stroke="#3a3a3a" stroke-width="0.8"/>
<line x1="456.58" y1="178.60" x2="456.58" y2="189.50" stroke="#555" stroke-width="0.6"/>
<line x1="454.78" y1="178.60" x2="458.38" y2="178.60" stroke="#555" stroke-width="0.6"/>
<line x1="454.78" y1="189.50" x2="458.38" y2="189.50" stroke="#555" stroke-width="0.6"/>
<text x="456.58" y="231.8" font-size="6.6" text-anchor="middle" fill="#111" stroke="#111" stroke-width="0.1">G610S</text>
<text x="456.58" y="238.6" font-size="6.6" text-anchor="middle" fill="#111" stroke="#111" stroke-width="0.1">n=1</text>
<rect x="494.54" y="198.80" width="17" height="22.60" fill="#d9d9d9" stroke="#3a3a3a" stroke-width="0.8"/>
<text x="503.04" y="231.8" font-size="6.6" text-anchor="middle" fill="#111" stroke="#111" stroke-width="0.1">R1250Q</text>
<text x="503.04" y="238.6" font-size="6.6" text-anchor="middle" fill="#111" stroke="#111" stroke-width="0.1">n=13</text>
<line x1="49.3" y1="194.85" x2="539.2" y2="194.85" stroke="#000" stroke-width="1.05" stroke-dasharray="4.4,1.8" stroke-dashoffset="2.0"/>
<line x1="49.3" y1="169.5" x2="49.3" y2="221.4" stroke="#222" stroke-width="0.95"/>
<line x1="49.3" y1="221.4" x2="538.0" y2="221.4" stroke="#222" stroke-width="0.95"/>
<line x1="47.80" y1="221.40" x2="49.30" y2="221.40" stroke="#222" stroke-width="0.95"/>
<text x="44.80" y="224.00" font-size="6.4" text-anchor="end" fill="#000" stroke="#000" stroke-width="0.2">0</text>
<line x1="47.80" y1="208.35" x2="49.30" y2="208.35" stroke="#222" stroke-width="0.95"/>
<text x="44.80" y="210.95" font-size="6.4" text-anchor="end" fill="#000" stroke="#000" stroke-width="0.2">50</text>
<line x1="47.80" y1="195.30" x2="49.30" y2="195.30" stroke="#222" stroke-width="0.95"/>
<text x="44.80" y="197.90" font-size="6.4" text-anchor="end" fill="#000" stroke="#000" stroke-width="0.2">100</text>
<line x1="47.80" y1="182.25" x2="49.30" y2="182.25" stroke="#222" stroke-width="0.95"/>
<text x="44.80" y="184.85" font-size="6.4" text-anchor="end" fill="#000" stroke="#000" stroke-width="0.2">150</text>
<line x1="47.80" y1="169.20" x2="49.30" y2="169.20" stroke="#222" stroke-width="0.95"/>
<text x="44.80" y="171.80" font-size="6.4" text-anchor="end" fill="#000" stroke="#000" stroke-width="0.2">200</text>
<text x="60.6" y="176.1" font-size="8" fill="#222" stroke="#222" stroke-width="0.1">C</text>
<text x="80.1" y="176.1" font-size="8" fill="#222" stroke="#222" stroke-width="0.1">Blood ACE levels – corrected values per groups</text>
<text x="134.66" y="189.2" font-size="5.8" text-anchor="middle" fill="#666" stroke="none">p&lt;0.01</text>
<polygon points="131.06,196.60 131.82,198.45 133.82,198.60 132.30,199.90 132.76,201.85 131.06,200.80 129.36,201.85 129.82,199.90 128.30,198.60 130.30,198.45" fill="#111"/>
<text x="227.58" y="189.2" font-size="5.8" text-anchor="middle" fill="#666" stroke="none">p&lt;0.01</text>
<polygon points="223.98,196.60 224.74,198.45 226.74,198.60 225.22,199.90 225.68,201.85 223.98,200.80 222.28,201.85 222.74,199.90 221.22,198.60 223.22,198.45" fill="#111"/>
<text x="179.72" y="189.7" font-size="5.8" text-anchor="middle" fill="#333" stroke="#333" stroke-width="0.05">NS</text>
<text x="506.84" y="189.7" font-size="5.8" text-anchor="middle" fill="#333" stroke="#333" stroke-width="0.05">NS</text>
<text transform="translate(17.1,130.6) rotate(-90)" font-size="9.1" text-anchor="middle" fill="#000" stroke="#000" stroke-width="0.2">Precipitation of ACE activity by mAb 9B9,</text>
<text transform="translate(25.6,130) rotate(-90)" font-size="9" text-anchor="middle" fill="#000" stroke="#000" stroke-width="0.2">% of mean of controls</text>
<text x="22.6" y="243.5" font-size="8.8" fill="#111" stroke="#111" stroke-width="0.1">D.</text>
<text x="36.4" y="243.3" font-size="6.6" fill="#111" stroke="#111" stroke-width="0.1">Scores</text>
<text x="22.9" y="251.7" font-size="6.75" fill="#111" stroke="#111" stroke-width="0.1">PolyPhen-2</text>
<text x="22.9" y="260.0" font-size="6.75" fill="#111" stroke="#111" stroke-width="0.1">SIFT4G</text>
<text x="22.9" y="268.3" font-size="6.75" fill="#111" stroke="#111" stroke-width="0.1">VESTA4</text>
<text x="22.9" y="276.6" font-size="6.75" fill="#111" stroke="#111" stroke-width="0.1">REVEL</text>
<text x="22.9" y="284.9" font-size="6.75" fill="#111" stroke="#111" stroke-width="0.1">Summary</text>
<text x="130.30" y="251.7" font-size="6.6" font-weight="bold" text-anchor="middle" fill="#e8262a" stroke="#e8262a" stroke-width="0.1">1.000</text>
<text x="130.30" y="260.0" font-size="6.6" text-anchor="middle" fill="#e8262a" stroke="#e8262a" stroke-width="0.1">0.002</text>
<text x="130.30" y="268.3" font-size="6.6" text-anchor="middle" fill="#e8262a" stroke="#e8262a" stroke-width="0.1">0.641</text>
<text x="130.30" y="276.6" font-size="6.6" text-anchor="middle" fill="#111" stroke="#111" stroke-width="0.1">0.272</text>
<text x="130.90" y="284.9" font-size="6.6" font-weight="bold" text-anchor="middle" fill="#e8262a" stroke="#e8262a" stroke-width="0.1">D</text>
<text x="175.90" y="251.7" font-size="6.6" font-weight="bold" text-anchor="middle" fill="#e8262a" stroke="#e8262a" stroke-width="0.1">0.988</text>
<text x="175.90" y="260.0" font-size="6.6" text-anchor="middle" fill="#111" stroke="#111" stroke-width="0.1">0.147</text>
<text x="175.90" y="268.3" font-size="6.6" text-anchor="middle" fill="#111" stroke="#111" stroke-width="0.1">0.408</text>
<text x="175.90" y="276.6" font-size="6.6" text-anchor="middle" fill="#111" stroke="#111" stroke-width="0.1">0.327</text>
<text x="178.50" y="284.9" font-size="6.6" text-anchor="middle" fill="#111" stroke="#111" stroke-width="0.1">B</text>
<text x="224.10" y="251.7" font-size="6.6" font-weight="bold" text-anchor="middle" fill="#e8262a" stroke="#e8262a" stroke-width="0.1">0.998</text>
<text x="224.10" y="260.0" font-size="6.6" text-anchor="middle" fill="#e8262a" stroke="#e8262a" stroke-width="0.1">0.003</text>
<text x="224.10" y="268.3" font-size="6.6" text-anchor="middle" fill="#e8262a" stroke="#e8262a" stroke-width="0.1">0.650</text>
<text x="224.10" y="276.6" font-size="6.6" text-anchor="middle" fill="#111" stroke="#111" stroke-width="0.1">0.318</text>
<text x="226.00" y="284.9" font-size="6.6" font-weight="bold" text-anchor="middle" fill="#e8262a" stroke="#e8262a" stroke-width="0.1">D</text>
<text x="268.70" y="251.7" font-size="6.6" text-anchor="middle" fill="#111" stroke="#111" stroke-width="0.1">0.301</text>
<text x="268.70" y="260.0" font-size="6.6" text-anchor="middle" fill="#e8262a" stroke="#e8262a" stroke-width="0.1">0.040</text>
<text x="268.70" y="268.3" font-size="6.6" text-anchor="middle" fill="#e8262a" stroke="#e8262a" stroke-width="0.1">0.708</text>
<text x="268.70" y="276.6" font-size="6.6" text-anchor="middle" fill="#111" stroke="#111" stroke-width="0.1">0.190</text>
<text x="271.50" y="284.9" font-size="6.6" text-anchor="middle" fill="#111" stroke="#111" stroke-width="0.1">B?</text>
<text x="317.00" y="251.7" font-size="6.6" font-weight="bold" text-anchor="middle" fill="#e8262a" stroke="#e8262a" stroke-width="0.1">0.939</text>
<text x="317.00" y="260.0" font-size="6.6" text-anchor="middle" fill="#e8262a" stroke="#e8262a" stroke-width="0.1">0.015</text>
<text x="317.00" y="268.3" font-size="6.6" text-anchor="middle" fill="#e8262a" stroke="#e8262a" stroke-width="0.1">0.571</text>
<text x="317.00" y="276.6" font-size="6.6" text-anchor="middle" fill="#111" stroke="#111" stroke-width="0.1">0.359</text>
<text x="318.00" y="284.9" font-size="6.6" font-weight="bold" text-anchor="middle" fill="#e8262a" stroke="#e8262a" stroke-width="0.1">D</text>
<text x="363.70" y="251.7" font-size="6.6" font-weight="bold" text-anchor="middle" fill="#6a3aa8" stroke="#6a3aa8" stroke-width="0.1">0.783</text>
<text x="363.70" y="260.0" font-size="6.6" text-anchor="middle" fill="#e8262a" stroke="#e8262a" stroke-width="0.1">0.012</text>
<text x="363.70" y="268.3" font-size="6.6" text-anchor="middle" fill="#111" stroke="#111" stroke-width="0.1">0.371</text>
<text x="363.70" y="276.6" font-size="6.6" text-anchor="middle" fill="#111" stroke="#111" stroke-width="0.1">0.103</text>
<text x="365.90" y="284.9" font-size="6.6" font-weight="bold" text-anchor="middle" fill="#e8262a" stroke="#e8262a" stroke-width="0.1">D?</text>
<text x="410.30" y="251.7" font-size="6.6" font-weight="bold" text-anchor="middle" fill="#e8262a" stroke="#e8262a" stroke-width="0.1">0.988</text>
<text x="410.30" y="260.0" font-size="6.6" text-anchor="middle" fill="#e8262a" stroke="#e8262a" stroke-width="0.1">0.003</text>
<text x="410.30" y="268.3" font-size="6.6" text-anchor="middle" fill="#e8262a" stroke="#e8262a" stroke-width="0.1">0.776</text>
<text x="410.30" y="276.6" font-size="6.6" text-anchor="middle" fill="#111" stroke="#111" stroke-width="0.1">0.386</text>
<text x="410.90" y="284.9" font-size="6.6" font-weight="bold" text-anchor="middle" fill="#e8262a" stroke="#e8262a" stroke-width="0.1">D</text>
<text x="457.50" y="251.7" font-size="6.6" text-anchor="middle" fill="#111" stroke="#111" stroke-width="0.1">0.007</text>
<text x="457.50" y="260.0" font-size="6.6" text-anchor="middle" fill="#111" stroke="#111" stroke-width="0.1">0.293</text>
<text x="457.50" y="268.3" font-size="6.6" text-anchor="middle" fill="#111" stroke="#111" stroke-width="0.1">0.117</text>
<text x="457.50" y="276.6" font-size="6.6" text-anchor="middle" fill="#111" stroke="#111" stroke-width="0.1">0.038</text>
<text x="460.40" y="284.9" font-size="6.6" text-anchor="middle" fill="#111" stroke="#111" stroke-width="0.1">B</text>
<text x="503.50" y="251.7" font-size="6.6" text-anchor="middle" fill="#111" stroke="#111" stroke-width="0.1">0.002</text>
<text x="503.50" y="260.0" font-size="6.6" text-anchor="middle" fill="#e8262a" stroke="#e8262a" stroke-width="0.1">0.019</text>
<text x="503.50" y="268.3" font-size="6.6" text-anchor="middle" fill="#111" stroke="#111" stroke-width="0.1">0.098</text>
<text x="503.50" y="276.6" font-size="6.6" text-anchor="middle" fill="#111" stroke="#111" stroke-width="0.1">0.051</text>
<text x="506.80" y="284.9" font-size="6.6" text-anchor="middle" fill="#111" stroke="#111" stroke-width="0.1">B</text>
</svg></body></html>
